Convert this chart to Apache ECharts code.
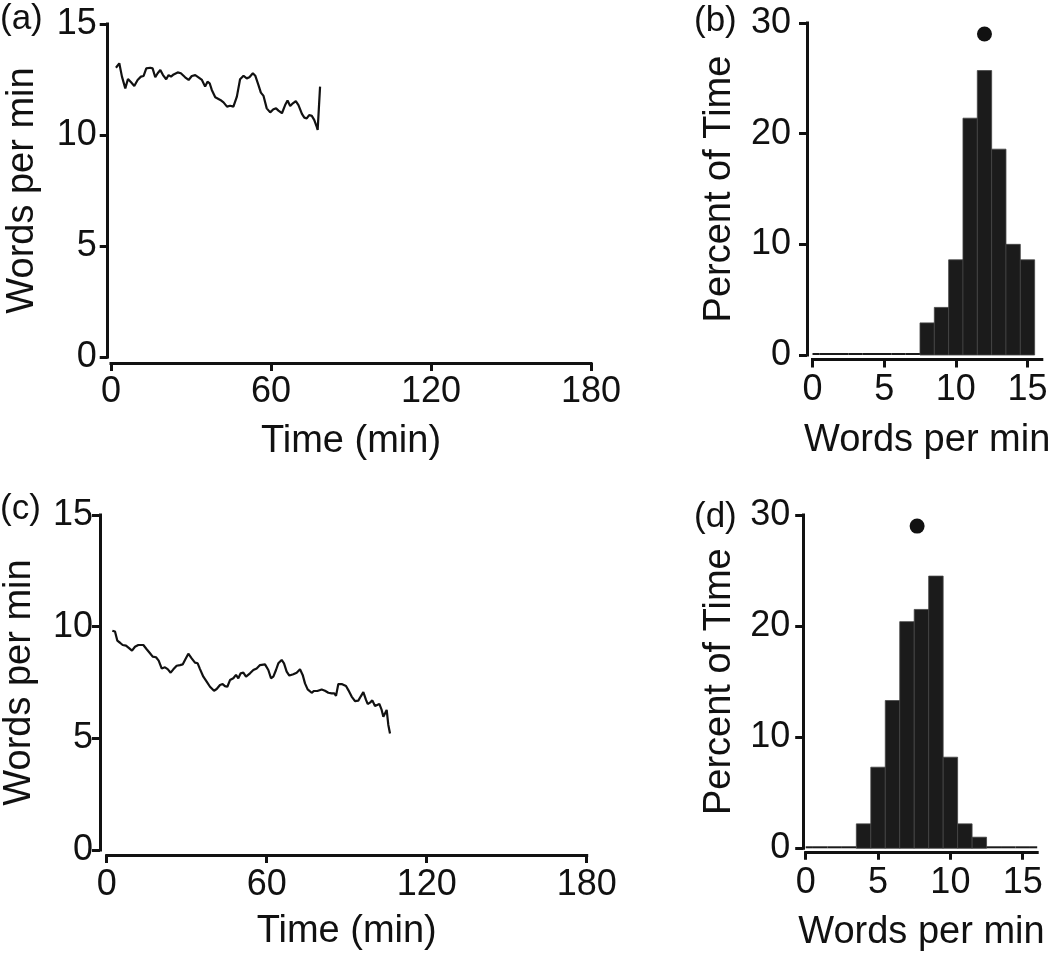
<!DOCTYPE html>
<html><head><meta charset="utf-8">
<script src="https://cdn.jsdelivr.net/npm/echarts@6/dist/echarts.min.js"></script>
<style>html,body{margin:0;padding:0;background:#fff}#c{width:1050px;height:957px}</style>
</head><body><div id="c"></div>
<script>
// ---- Panel (a): words per minute over time ----
const timeA = [1.86,3.11,4.11,5.36,6.36,7.61,8.73,9.98,11.23,12.23,13.23,14.73,15.6,16.6,17.5,18.5,19.5,20.7,21.6,22.5,23.5,25.0,26.2,27.8,29.1,30.3,31.6,32.8,34.1,35.3,36.2,37.0,37.8,39.1,41.0,42.2,43.5,44.7,45.9,47.2,48.4,49.7,50.9,51.9,53.2,54.1,55.3,56.2,57.2,58.4,59.7,60.9,61.9,62.8,64.1,65.3,66.2,67.2,68.2,69.3,70.3,71.6,72.5,73.4,74.3,75.3,76.2,77.2,77.5,78.4];
const wpmA = [13.03,13.23,12.63,12.10,12.52,12.36,12.21,12.48,12.63,12.66,13.0,13.03,13.0,12.6,12.78,12.93,12.70,12.51,12.70,12.63,12.73,12.82,12.78,12.6,12.48,12.66,12.70,12.6,12.48,12.18,12.40,12.33,12.03,11.70,11.58,11.47,11.28,11.32,11.28,11.73,12.51,12.67,12.55,12.6,12.78,12.67,12.25,11.91,11.76,11.20,11.02,11.16,11.2,11.10,10.98,11.35,11.55,11.31,11.43,11.53,11.35,10.95,10.78,10.75,10.90,10.86,10.68,10.35,10.23,12.18];

// ---- Panel (c): words per minute over time ----
const timeC = [2.11,3.11,3.99,4.99,5.99,7.24,8.49,9.49,10.61,11.86,13.74,14.99,16.24,17.24,18.49,19.49,20.61,21.86,22.86,23.99,24.99,26.24,27.49,28.49,29.36,30.61,31.86,33.11,34.11,34.99,36.24,37.49,38.74,40.24,41.24,42.49,43.49,44.36,45.24,46.24,47.49,48.49,49.36,50.24,51.24,52.24,53.74,54.99,56.24,57.49,59.36,60.61,61.61,62.49,63.49,64.36,65.61,66.49,67.49,68.49,69.99,71.24,72.49,73.49,74.36,75.36,76.86,77.74,78.99,80.61,81.86,83.11,84.36,85.36,85.99,86.86,88.11,89.74,90.61,91.86,93.11,94.36,95.24,96.24,97.24,97.86,98.74,99.61,100.61,101.24,102.24,103.11,103.74,104.49,104.99,105.61,106.24];
const wpmC = [9.82,9.78,9.37,9.28,9.18,9.15,9.03,8.93,9.10,9.18,9.18,8.99,8.81,8.66,8.63,8.48,8.13,8.18,8.10,7.94,8.09,8.25,8.28,8.31,8.51,8.79,8.58,8.39,8.36,8.10,7.76,7.54,7.31,7.13,7.21,7.39,7.43,7.34,7.31,7.61,7.69,7.84,7.69,7.91,7.94,7.76,7.91,8.06,8.13,8.28,8.31,8.06,7.69,7.76,8.06,8.36,8.51,8.36,7.99,7.81,7.87,7.94,8.09,7.84,7.46,7.19,7.04,7.12,7.12,7.19,7.13,7.04,7.01,7.01,6.90,7.43,7.43,7.34,7.16,6.87,6.67,6.69,6.87,7.07,6.72,6.54,6.60,6.70,6.45,6.39,6.54,6.27,5.97,6.15,6.27,5.60,5.22];

// ---- Panel (b): histogram (bin centres, percent of time) ----
const binsB = [0,1,2,3,4,5,6,7,8,9,10,11,12,13,14,15];
const pctB  = [0,0,0,0,0,0,0,0,2.9,4.3,8.6,21.4,25.7,18.6,10.0,8.6];
const meanB = [12.0, 29];

// ---- Panel (d): histogram ----
const binsD = [0,1,2,3,4,5,6,7,8,9,10,11,12,13,14,15,16];
const pctD  = [0,0,0,0,2.2,7.3,13.3,20.4,21.5,24.5,8.2,2.2,1.0,0,0,0,0];
const meanD = [7.7, 29];

// ---- tick labels ----
const timeTicks = [0, 60, 120, 180];
const wpmTicks = [0, 5, 10, 15];
const histXTicks = [0, 5, 10, 15];
const pctTicks = [0, 10, 20, 30];

const FONT = '"Liberation Sans", Arial, Helvetica, sans-serif';
const INK = '#111';

function zip(a, b) { return a.map((v, i) => [v, b[i]]); }

const axisLineStyle = { show: true, onZero: false, lineStyle: { color: INK, width: 3, cap: 'square' } };
const tickStyle = { show: true, inside: false, length: 8, lineStyle: { color: INK, width: 3 } };
function labelStyle(margin) { return { show: true, fontSize: 36, color: INK, fontFamily: FONT, margin: margin }; }
function nameStyle() { return { fontSize: 38, color: INK, fontFamily: FONT, lineHeight: 38 }; }

function axisCfg(gridIndex, ticks, min, max, offset, margin, nameGap, name) {
  return {
    type: 'value', gridIndex, min, max, offset,
    name, nameLocation: 'middle', nameGap, nameTextStyle: nameStyle(),
    axisLine: axisLineStyle,
    axisTick: Object.assign({ customValues: ticks }, tickStyle),
    axisLabel: Object.assign({ customValues: ticks }, labelStyle(margin)),
    splitLine: { show: false }
  };
}

function histRender(params, api) {
  const x = api.value(0), v = api.value(1);
  const p0 = api.coord([x - 0.5, v]);
  const p1 = api.coord([x + 0.5, 0]);
  const cs = params.coordSys;
  let top = p0[1];
  const bottom = p1[1];
  if (bottom - top < 2) top = bottom - 2;
  const rect = echarts.graphic.clipRectByRect(
    { x: p0[0], y: top, width: p1[0] - p0[0], height: bottom - top },
    { x: cs.x, y: cs.y - 30, width: cs.width, height: cs.height + 60 }
  );
  if (!rect) return;
  return {
    type: 'rect', shape: rect,
    style: v > 0 ? { fill: '#1b1b1b', stroke: '#444', lineWidth: 0.8 } : { fill: '#1b1b1b' }
  };
}

const chart = echarts.init(document.getElementById('c'), null, { renderer: 'canvas' });
chart.setOption({
  backgroundColor: '#fff',
  animation: false,
  textStyle: { fontFamily: FONT },
  grid: [
    { left: 111, top: 24, width: 480, height: 333, outerBoundsMode: 'none' },
    { left: 812.5, top: 23, width: 229.3, height: 332, outerBoundsMode: 'none' },
    { left: 106.7, top: 515, width: 480, height: 335, outerBoundsMode: 'none' },
    { left: 805.7, top: 515, width: 231.5, height: 333.3, outerBoundsMode: 'none' }
  ],
  xAxis: [
    axisCfg(0, timeTicks, 0, 180, 6, 11, 60, 'Time (min)'),
    axisCfg(1, histXTicks, 0, 16, 4.5, 13, 62, 'Words per min'),
    axisCfg(2, timeTicks, 0, 180, 5, 12, 58, 'Time (min)'),
    axisCfg(3, histXTicks, 0, 16, 3.5, 13, 62, 'Words per min')
  ],
  yAxis: [
    axisCfg(0, wpmTicks, 0, 15, 3.3, 11, 66, 'Words per min'),
    axisCfg(1, pctTicks, 0, 30, 5.5, 16, 68, 'Percent of Time'),
    axisCfg(2, wpmTicks, 0, 15, 6.7, 7, 61, 'Words per min'),
    axisCfg(3, pctTicks, 0, 30, 2.5, 13, 65, 'Percent of Time')
  ],
  series: [
    { type: 'line', xAxisIndex: 0, yAxisIndex: 0, data: zip(timeA, wpmA), showSymbol: false, lineStyle: { color: INK, width: 2.2 }, silent: true },
    { type: 'custom', xAxisIndex: 1, yAxisIndex: 1, data: zip(binsB, pctB), renderItem: histRender, silent: true },
    { type: 'scatter', xAxisIndex: 1, yAxisIndex: 1, data: [meanB], symbol: 'circle', symbolSize: 15, itemStyle: { color: INK, opacity: 1 }, silent: true },
    { type: 'line', xAxisIndex: 2, yAxisIndex: 2, data: zip(timeC, wpmC), showSymbol: false, lineStyle: { color: INK, width: 2.2 }, silent: true },
    { type: 'custom', xAxisIndex: 3, yAxisIndex: 3, data: zip(binsD, pctD), renderItem: histRender, silent: true },
    { type: 'scatter', xAxisIndex: 3, yAxisIndex: 3, data: [meanD], symbol: 'circle', symbolSize: 15, itemStyle: { color: INK, opacity: 1 }, silent: true }
  ],
  graphic: [
    { type: 'text', left: 0, top: 2, style: { text: '(a)', fontSize: 35, fontFamily: FONT, fill: INK } },
    { type: 'text', left: 694, top: 4, style: { text: '(b)', fontSize: 35, fontFamily: FONT, fill: INK } },
    { type: 'text', left: 0, top: 492, style: { text: '(c)', fontSize: 35, fontFamily: FONT, fill: INK } },
    { type: 'text', left: 694, top: 500, style: { text: '(d)', fontSize: 35, fontFamily: FONT, fill: INK } }
  ]
});
</script>
</body></html>
